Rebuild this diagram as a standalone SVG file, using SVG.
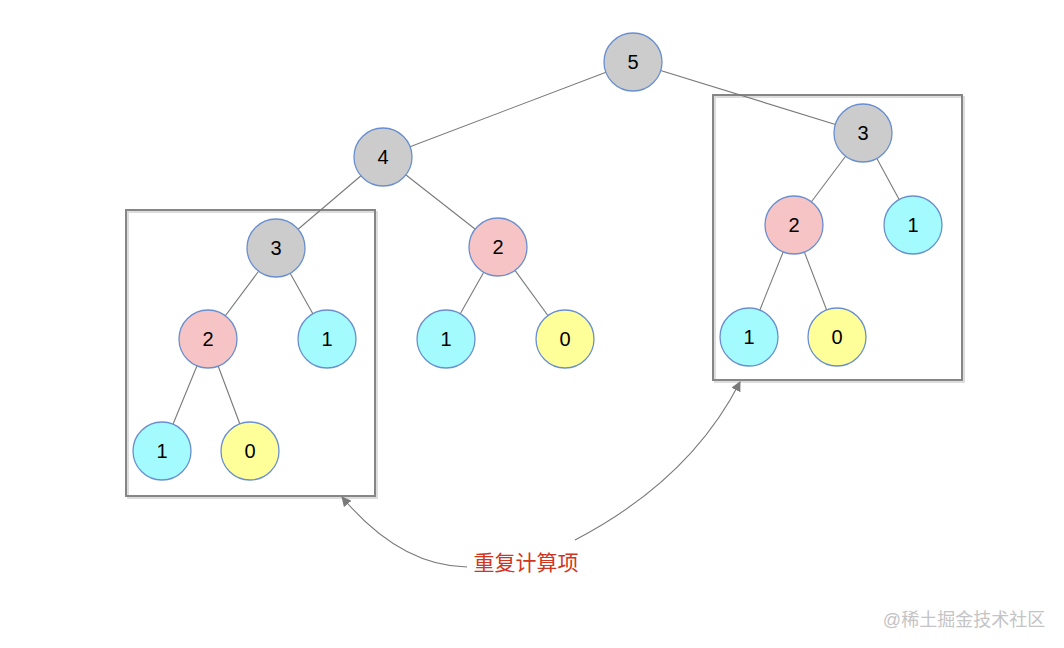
<svg xmlns="http://www.w3.org/2000/svg" width="1064" height="648" viewBox="0 0 1064 648">
<defs>
<style>
.n circle{stroke:#6a8fd0;stroke-width:1.3}
.g{fill:#cccccc}.p{fill:#f6c4c4}.c{fill:#a3fbfd}.y{fill:#ffff99}
.n text{font-family:"Liberation Sans",Arial,sans-serif;font-size:20px;fill:#000;text-anchor:middle;dominant-baseline:central}
.e line{stroke:#7a7a7a;stroke-width:1.1}
.box{fill:none;stroke:#868686;stroke-width:2}
.shadow{fill:none;stroke:#dddddd;stroke-width:2}
.arr{fill:none;stroke:#7a7a7a;stroke-width:1.1}
</style>
<marker id="ah" viewBox="0 0 10 10" refX="9" refY="5" markerWidth="10" markerHeight="10" markerUnits="userSpaceOnUse" orient="auto">
<path d="M0,0 L10,5 L0,10 z" fill="#7a7a7a"/>
</marker>
</defs>
<rect width="1064" height="648" fill="#ffffff"/>
<g id="boxes">
<rect class="shadow" x="128" y="212" width="249" height="286"/>
<rect class="box" x="126" y="210" width="249" height="286"/>
<rect class="shadow" x="715" y="97" width="249" height="285"/>
<rect class="box" x="713" y="95" width="249" height="285"/>
</g>
<g id="connectors" class="e">
<line x1="633" y1="62" x2="383" y2="157"/>
<line x1="633" y1="62" x2="863" y2="133"/>
<line x1="383" y1="157" x2="276" y2="248"/>
<line x1="383" y1="157" x2="498" y2="247"/>
<line x1="276" y1="248" x2="208" y2="339"/>
<line x1="276" y1="248" x2="327" y2="339"/>
<line x1="208" y1="339" x2="162" y2="451"/>
<line x1="208" y1="339" x2="250" y2="451"/>
<line x1="498" y1="247" x2="446" y2="339"/>
<line x1="498" y1="247" x2="565" y2="339"/>
<line x1="863" y1="133" x2="794" y2="225"/>
<line x1="863" y1="133" x2="913" y2="225"/>
<line x1="794" y1="225" x2="749" y2="337"/>
<line x1="794" y1="225" x2="837" y2="337"/>
<path class="arr" d="M467,567 Q400,566 342,497" marker-end="url(#ah)"/>
<path class="arr" d="M575,540 Q690,480 740,382" marker-end="url(#ah)"/>
</g>
<g id="n5" class="n"><circle class="g" cx="633" cy="62" r="29"/><text x="633" y="62">5</text></g>
<g id="n4" class="n"><circle class="g" cx="383" cy="157" r="29"/><text x="383" y="157">4</text></g>
<g id="nL3" class="n"><circle class="g" cx="276" cy="248" r="29"/><text x="276" y="248">3</text></g>
<g id="nL2" class="n"><circle class="p" cx="208" cy="339" r="29"/><text x="208" y="339">2</text></g>
<g id="nL1r" class="n"><circle class="c" cx="327" cy="339" r="29"/><text x="327" y="339">1</text></g>
<g id="nL1" class="n"><circle class="c" cx="162" cy="451" r="29"/><text x="162" y="451">1</text></g>
<g id="nL0" class="n"><circle class="y" cx="250" cy="451" r="29"/><text x="250" y="451">0</text></g>
<g id="nM2" class="n"><circle class="p" cx="498" cy="247" r="29"/><text x="498" y="247">2</text></g>
<g id="nM1" class="n"><circle class="c" cx="446" cy="339" r="29"/><text x="446" y="339">1</text></g>
<g id="nM0" class="n"><circle class="y" cx="565" cy="339" r="29"/><text x="565" y="339">0</text></g>
<g id="nR3" class="n"><circle class="g" cx="863" cy="133" r="29"/><text x="863" y="133">3</text></g>
<g id="nR2" class="n"><circle class="p" cx="794" cy="225" r="29"/><text x="794" y="225">2</text></g>
<g id="nR1r" class="n"><circle class="c" cx="913" cy="225" r="29"/><text x="913" y="225">1</text></g>
<g id="nR1" class="n"><circle class="c" cx="749" cy="337" r="29"/><text x="749" y="337">1</text></g>
<g id="nR0" class="n"><circle class="y" cx="837" cy="337" r="29"/><text x="837" y="337">0</text></g>
<g id="label">
<text x="526" y="570" font-family="'Liberation Sans','Noto Sans CJK SC',sans-serif" font-size="21" fill="#d0361f" text-anchor="middle">重复计算项</text>
</g>
<text x="964" y="626" font-family="'Liberation Sans','Noto Sans CJK SC',sans-serif" font-size="18" fill="#c4c4c4" text-anchor="middle">@稀土掘金技术社区</text>
</svg>
